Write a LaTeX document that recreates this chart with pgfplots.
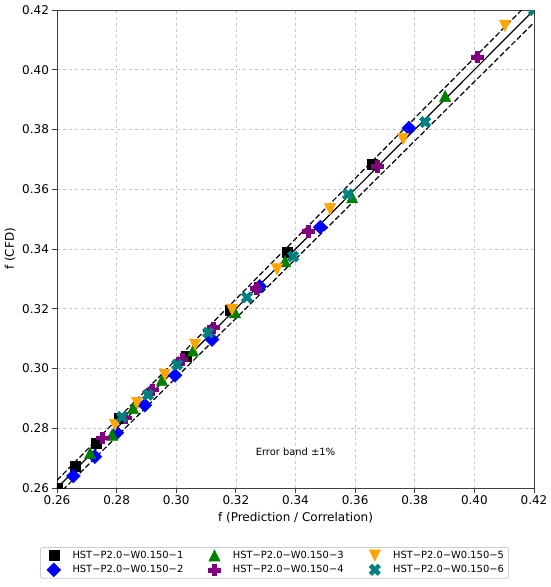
\documentclass[border=0pt]{standalone}
\usepackage{fontspec}
\setmainfont{DejaVu Sans}
\usepackage{pgfplots}
\pgfplotsset{compat=1.18}

\definecolor{mblue}{HTML}{0000FF}
\definecolor{mgreen}{HTML}{008000}
\definecolor{mpurple}{HTML}{800080}
\definecolor{morange}{HTML}{FFA500}
\definecolor{mteal}{HTML}{008080}

\pgfdeclareplotmark{mtri}{%
  \pgfpathmoveto{\pgfpoint{0pt}{\pgfplotmarksize}}%
  \pgfpathlineto{\pgfpoint{-\pgfplotmarksize}{-\pgfplotmarksize}}%
  \pgfpathlineto{\pgfpoint{\pgfplotmarksize}{-\pgfplotmarksize}}%
  \pgfpathclose\pgfusepathqfillstroke}
\pgfdeclareplotmark{mtridown}{%
  \pgfpathmoveto{\pgfpoint{0pt}{-\pgfplotmarksize}}%
  \pgfpathlineto{\pgfpoint{-\pgfplotmarksize}{\pgfplotmarksize}}%
  \pgfpathlineto{\pgfpoint{\pgfplotmarksize}{\pgfplotmarksize}}%
  \pgfpathclose\pgfusepathqfillstroke}
\pgfdeclareplotmark{mplus}{%
  \pgfmathsetlengthmacro\mu{\pgfplotmarksize/3}%
  \pgfpathmoveto{\pgfpoint{-1*\mu}{-3*\mu}}%
  \pgfpathlineto{\pgfpoint{-1*\mu}{-1*\mu}}%
  \pgfpathlineto{\pgfpoint{-3*\mu}{-1*\mu}}%
  \pgfpathlineto{\pgfpoint{-3*\mu}{1*\mu}}%
  \pgfpathlineto{\pgfpoint{-1*\mu}{1*\mu}}%
  \pgfpathlineto{\pgfpoint{-1*\mu}{3*\mu}}%
  \pgfpathlineto{\pgfpoint{1*\mu}{3*\mu}}%
  \pgfpathlineto{\pgfpoint{1*\mu}{1*\mu}}%
  \pgfpathlineto{\pgfpoint{3*\mu}{1*\mu}}%
  \pgfpathlineto{\pgfpoint{3*\mu}{-1*\mu}}%
  \pgfpathlineto{\pgfpoint{1*\mu}{-1*\mu}}%
  \pgfpathlineto{\pgfpoint{1*\mu}{-3*\mu}}%
  \pgfpathclose\pgfusepathqfillstroke}
\pgfdeclareplotmark{mx}{%
  \pgfmathsetlengthmacro\mu{\pgfplotmarksize/2}%
  \pgfpathmoveto{\pgfpoint{-1*\mu}{-2*\mu}}%
  \pgfpathlineto{\pgfpoint{0pt}{-1*\mu}}%
  \pgfpathlineto{\pgfpoint{1*\mu}{-2*\mu}}%
  \pgfpathlineto{\pgfpoint{2*\mu}{-1*\mu}}%
  \pgfpathlineto{\pgfpoint{1*\mu}{0pt}}%
  \pgfpathlineto{\pgfpoint{2*\mu}{1*\mu}}%
  \pgfpathlineto{\pgfpoint{1*\mu}{2*\mu}}%
  \pgfpathlineto{\pgfpoint{0pt}{1*\mu}}%
  \pgfpathlineto{\pgfpoint{-1*\mu}{2*\mu}}%
  \pgfpathlineto{\pgfpoint{-2*\mu}{1*\mu}}%
  \pgfpathlineto{\pgfpoint{-1*\mu}{0pt}}%
  \pgfpathlineto{\pgfpoint{-2*\mu}{-1*\mu}}%
  \pgfpathclose\pgfusepathqfillstroke}

% marker definitions (pure TikZ keys)
\tikzset{
  mA/.style={mark=square*, mark size=5pt, mark options={draw=black, fill=black, line width=0.5pt}},
  mB/.style={mark=square*, mark size=4.9pt, mark options={rotate=45, draw=mblue, fill=mblue, line width=0.5pt}},
  mC/.style={mark=mtri, mark size=5.6pt, mark options={draw=mgreen, fill=mgreen, line width=0.5pt}},
  mD/.style={mark=mplus, mark size=5.8pt, mark options={draw=mpurple, fill=mpurple, line width=0.5pt}},
  mE/.style={mark=mtridown, mark size=5.6pt, mark options={draw=morange, fill=morange, line width=0.5pt}},
  mF/.style={mark=mx, mark size=5.6pt, mark options={draw=mteal, fill=mteal, line width=0.5pt}},
}
\newcommand\limg[1]{\addlegendimage{legend image code/.code={%
  \draw[only marks,#1] plot coordinates {(0pt,0pt)};
  \path[draw=none,fill=none] (-10.7pt,-6pt) rectangle (6.5pt,6pt);}}}

\begin{document}
\begin{tikzpicture}
\path[use as bounding box] (-57pt,-99pt) rectangle (493pt,488pt);
\begin{axis}[
  at={(0pt,0pt)}, anchor=south west,
  scale only axis, width=477pt, height=478pt,
  xmin=0.26, xmax=0.42, ymin=0.26, ymax=0.42,
  xtick={0.26,0.28,0.30,0.32,0.34,0.36,0.38,0.40,0.42},
  ytick={0.26,0.28,0.30,0.32,0.34,0.36,0.38,0.40,0.42},
  /pgf/number format/assume math mode=true,
  xticklabel style={/pgf/number format/fixed, /pgf/number format/precision=2, /pgf/number format/fixed zerofill},
  yticklabel style={/pgf/number format/fixed, /pgf/number format/precision=2, /pgf/number format/fixed zerofill},
  scaled ticks=false,
  grid=major,
  major grid style={dashed, black!22, line width=0.6pt},
  axis line style={black!75, line width=0.9pt},
  tick align=outside, tick pos=left, major tick length=4.5pt,
  tick style={black!75, line width=0.9pt},
  tick label style={font=\fontsize{12}{14}\selectfont},
  label style={font=\fontsize{12}{14}\selectfont},
  xlabel={f (Prediction / Correlation)},
  ylabel={f (CFD)},
  clip marker paths=true,
  legend columns=3,
  legend cell align=left,
  legend style={at={(0.456,-0.1567)}, anchor=center, draw=black!20, line width=0.8pt, rounded corners=2pt,
    font=\fontsize{9.9}{11}\selectfont, inner xsep=2.6pt, inner ysep=1.5pt, row sep=1pt,
    /tikz/every odd column/.append style={column sep=9.8pt},
    /tikz/every even column/.append style={column sep=18.5pt}},
]
\addplot[black, line width=1.2pt, forget plot] coordinates {(0.26,0.26) (0.42,0.42)};
\addplot[black, line width=1.2pt, dash pattern=on 5.5pt off 2.5pt, forget plot] coordinates {(0.26,0.2626) (0.42,0.4242)};
\addplot[black, line width=1.2pt, dash pattern=on 5.5pt off 2.5pt, forget plot] coordinates {(0.26,0.2574) (0.42,0.4158)};

\addplot[only marks, mA, forget plot] coordinates {(0.2600,0.2600) (0.2660,0.2672) (0.2733,0.2749) (0.2808,0.2834) (0.3033,0.3040) (0.3180,0.3195) (0.3373,0.3389) (0.3657,0.3684)};
\addplot[only marks, mB, forget plot] coordinates {(0.2655,0.2640) (0.2727,0.2705) (0.2801,0.2785) (0.2895,0.2877) (0.2996,0.2977) (0.3120,0.3097) (0.3280,0.3275) (0.3483,0.3473) (0.3780,0.3805)};
\addplot[only marks, mC, forget plot] coordinates {(0.2711,0.2717) (0.2785,0.2778) (0.2855,0.2868) (0.2952,0.2962) (0.3056,0.3060) (0.3197,0.3188) (0.3365,0.3359) (0.3590,0.3573) (0.3902,0.3912)};
\addplot[only marks, mD, forget plot] coordinates {(0.2751,0.2768) (0.2828,0.2835) (0.2919,0.2929) (0.3019,0.3030) (0.3124,0.3137) (0.3267,0.3268) (0.3442,0.3459) (0.3674,0.3677) (0.4009,0.4043)};
\addplot[only marks, mE, forget plot] coordinates {(0.2795,0.2811) (0.2868,0.2885) (0.2962,0.2979) (0.3063,0.3080) (0.3187,0.3197) (0.3338,0.3332) (0.3516,0.3533) (0.3761,0.3768) (0.4103,0.4147)};
\addplot[only marks, mF, forget plot] coordinates {(0.2818,0.2838) (0.2905,0.2912) (0.3003,0.3013) (0.3107,0.3120) (0.3237,0.3238) (0.3392,0.3375) (0.3576,0.3583) (0.3835,0.3825) (0.4200,0.4200)};

\limg{mA}\addlegendentry{HST−P2.0−W0.150−1}
\limg{mC}\addlegendentry{HST−P2.0−W0.150−3}
\limg{mE}\addlegendentry{HST−P2.0−W0.150−5}
\limg{mB}\addlegendentry{HST−P2.0−W0.150−2}
\limg{mD}\addlegendentry{HST−P2.0−W0.150−4}
\limg{mF}\addlegendentry{HST−P2.0−W0.150−6}

\node[font=\fontsize{9.9}{11}\selectfont] at (axis cs:0.34,0.2721) {Error band ±1\%};
\end{axis}
\end{tikzpicture}
\end{document}
